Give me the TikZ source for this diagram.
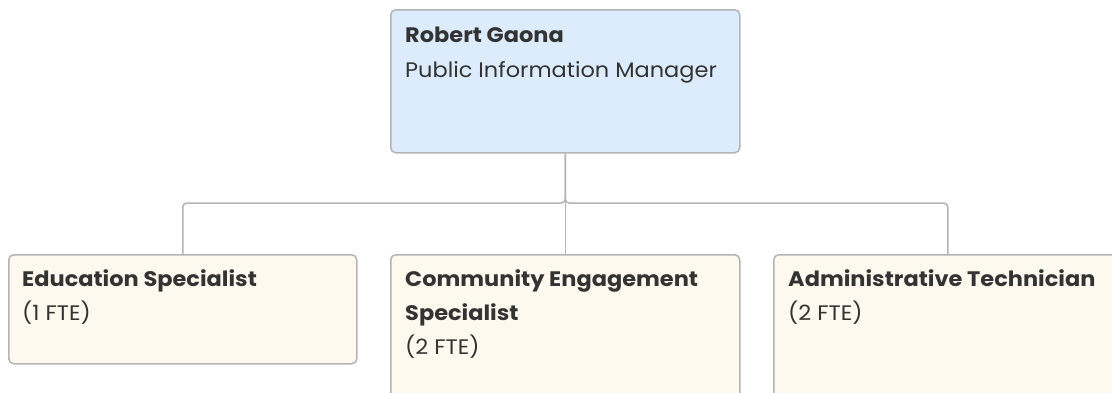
\documentclass[tikz,border=0pt]{standalone}
\usepackage{fontspec}
\setmainfont{Poppins}[FakeStretch=1.07]
\begin{document}
\begin{tikzpicture}[x=1pt,y=-1pt,
  box/.style={draw=boxline, line width=1.5pt, rounded corners=5pt, inner sep=0pt, anchor=north west},
  lead/.style={fill=leadfill, box},
  unit/.style={fill=unitfill, box},
  conn/.style={draw=connline, line width=1.5pt, rounded corners=4pt},
  txt/.style={anchor=base west, inner sep=0pt, text=ink, font=\fontsize{21}{34}\selectfont, align=left},
  bold/.style={txt, font=\fontsize{21}{34}\selectfont\bfseries}
]
\definecolor{boxline}{HTML}{B4B4B4}
\definecolor{connline}{HTML}{B4B4B4}
\definecolor{leadfill}{HTML}{DCECFD}
\definecolor{unitfill}{HTML}{FEF9EE}
\definecolor{ink}{HTML}{333333}
\useasboundingbox (0,0) rectangle (1112,392);
\clip (0,0) rectangle (1112,392);

% boxes
\node[lead, minimum width=349pt, minimum height=143pt] (mgr) at (390,9) {};
\node[unit, minimum width=348pt, minimum height=109pt] (edu) at (8,254) {};
\node[unit, minimum width=349pt, minimum height=170pt] (com) at (390,254) {};
\node[unit, minimum width=348pt, minimum height=170pt] (adm) at (773,254) {};

% texts
\node[bold] (mgrname) at (405,42) {Robert Gaona};
\node[txt]  (mgrrole) at (405,77) {Public Information Manager};

\node[bold] (edut) at (22,286) {Education Specialist};
\node[txt]  (edun) at (22,320) {(1 FTE)};

\node[bold] (comt) at (405,286) {Community Engagement};
\node[bold] (comt2) at (405,320) {Specialist};
\node[txt]  (comn) at (405,354) {(2 FTE)};

\node[bold] (admt) at (788,286) {Administrative Technician};
\node[txt]  (admn) at (788,320) {(2 FTE)};

% connectors
\coordinate (j) at (mgr.south |- 0,203);
\draw[conn] (mgr.south) -- (j) -| (edu.north);
\draw[conn] (mgr.south) -- (j) -| (adm.north);
\draw[conn] (mgr.south) -- (com.north);
\end{tikzpicture}
\end{document}
